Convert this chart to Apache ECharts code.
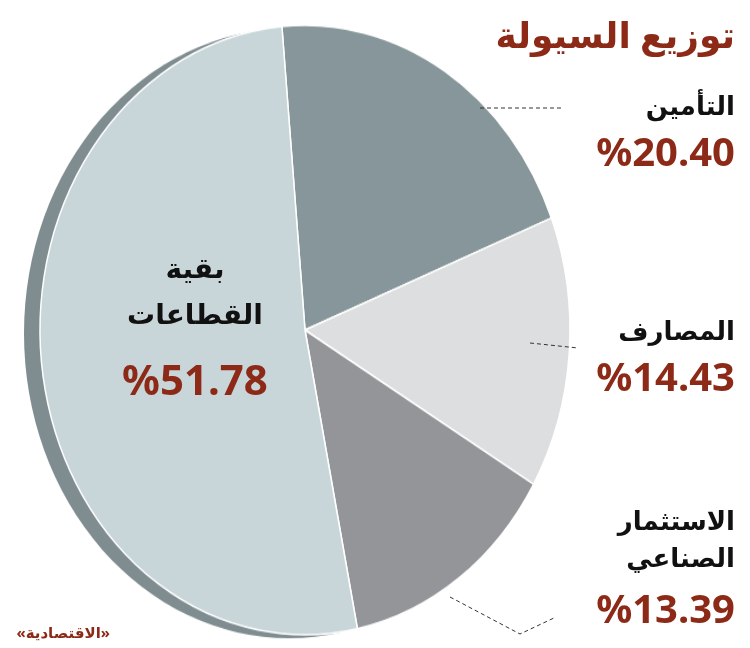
<!DOCTYPE html>
<html><head><meta charset="utf-8">
<script src="https://cdn.jsdelivr.net/npm/echarts@6/dist/echarts.min.js"></script>
<style>
body{margin:0;background:#fff}
#pie,#txt{position:absolute;left:0;top:0;width:750px;height:648px}
#pie{transform-origin:305px 330px;transform:scaleY(1.15)}
</style></head><body>
<div id="pie"></div><div id="txt"></div>
<script>
var sectors = ['التأمين', 'المصارف', 'الاستثمار الصناعي', 'بقية القطاعات'];
var shares = [20.40, 14.43, 13.39, 51.78];
var colors = ['#87969a', '#dcdedf', '#939598', '#c8d6da'];

var pieChart = echarts.init(document.getElementById('pie'));
pieChart.setOption({
    animation: false,
    series: [{
        type: 'pie', center: [289, 333], radius: 265, silent: true,
        label: {show: false}, itemStyle: {color: '#7f8d91'},
        data: [1]
    }, {
        type: 'pie', center: [305, 330], radius: 265, startAngle: 95, silent: true,
        label: {show: false},
        itemStyle: {borderColor: '#ffffff', borderWidth: 1.5},
        data: sectors.map(function (s, i) {
            return {name: s, value: shares[i], itemStyle: {color: colors[i]}};
        })
    }]
});

var red = '#8c2a17';
function t(x, y, s, size, color, align) {
    return {type: 'text', x: x, y: y, style: {text: s, fill: color, align: align || 'right',
        verticalAlign: 'middle', font: 'bold ' + size + 'px "Noto Sans", "DejaVu Sans", sans-serif'}};
}
function pct(v) { return '%' + v.toFixed(2); }
function dash(pts) {
    return {type: 'polyline', shape: {points: pts}, style: {stroke: '#333', lineWidth: 1, lineDash: [4, 3], fill: null}};
}
var txtChart = echarts.init(document.getElementById('txt'));
txtChart.setOption({
    graphic: [
        t(735, 38, 'توزيع السيولة', 36, red),
        t(735, 108, sectors[0], 26, '#111'),
        t(735, 155, pct(shares[0]), 40, red),
        t(735, 333, sectors[1], 26, '#111'),
        t(735, 380, pct(shares[1]), 40, red),
        t(735, 523, 'الاستثمار', 26, '#111'),
        t(735, 560, 'الصناعي', 26, '#111'),
        t(735, 612, pct(shares[2]), 40, red),
        t(195, 270, 'بقية', 28, '#111', 'center'),
        t(195, 316, 'القطاعات', 28, '#111', 'center'),
        t(195, 383, pct(shares[3]), 42, red, 'center'),
        t(110, 634, '«الاقتصادية»', 15, red),
        dash([[480, 108], [562, 108]]),
        dash([[530, 343], [578, 348]]),
        dash([[450, 597], [520, 634], [556, 617]])
    ]
});
</script></body></html>
